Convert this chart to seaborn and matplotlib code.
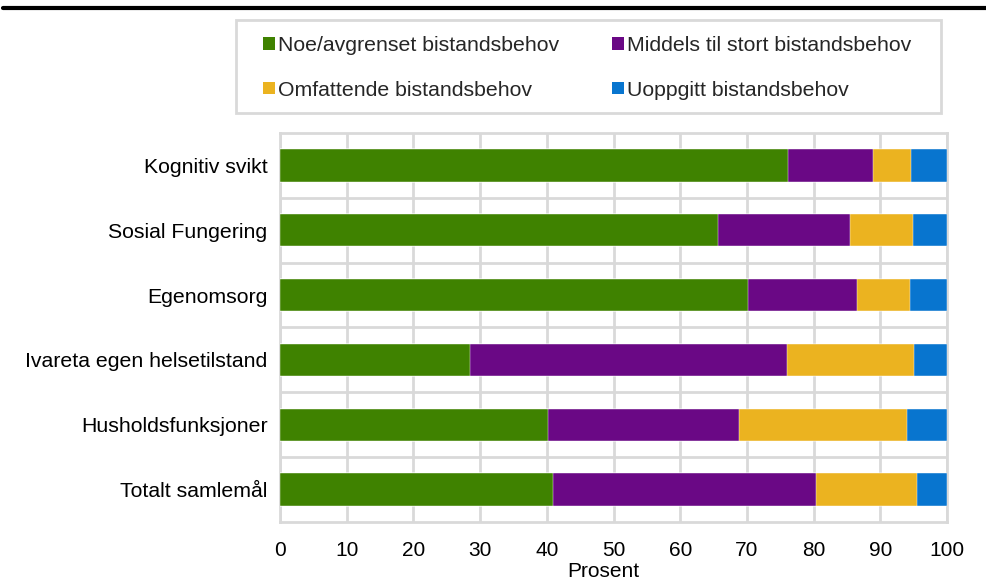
import numpy as np
import pandas as pd
import matplotlib
matplotlib.use("Agg")
import matplotlib.pyplot as plt
from matplotlib.patches import Patch, Rectangle
from matplotlib.lines import Line2D
import seaborn as sns

# Data (percent)
categories = ["Kognitiv svikt", "Sosial Fungering", "Egenomsorg",
              "Ivareta egen helsetilstand", "Husholdsfunksjoner", "Totalt samlemål"]
noe = [76.2, 65.7, 70.2, 28.5, 40.2, 40.9]
middels = [12.7, 19.8, 16.3, 47.5, 28.6, 39.5]
omfattende = [5.7, 9.4, 8.0, 19.1, 25.2, 15.1]
uoppgitt = [5.4, 5.1, 5.5, 4.9, 6.0, 4.5]

series_names = ["Noe/avgrenset bistandsbehov", "Middels til stort bistandsbehov",
                "Omfattende bistandsbehov", "Uoppgitt bistandsbehov"]
colors = ["#3f8200", "#6a0885", "#ebb320", "#0875cf"]
grid_col = "#d9d9d9"

sns.set_theme(style="white")
plt.rcParams["font.family"] = ["Liberation Sans", "DejaVu Sans"]

df = pd.DataFrame({"kategori": categories, "noe": noe, "middels": middels,
                   "omfattende": omfattende, "uoppgitt": uoppgitt})
cols = ["noe", "middels", "omfattende", "uoppgitt"]
cum = df[cols].cumsum(axis=1)

fig = plt.figure(figsize=(9.87, 5.8), dpi=100)
ax = fig.add_axes([0.2837, 0.1, 0.6758, 0.6707])

# stacked bars: draw cumulative totals, largest first
for col, c in reversed(list(zip(cols, colors))):
    sns.barplot(x=cum[col], y=df["kategori"], color=c, width=0.5, orient="h",
                edgecolor="white", linewidth=0.3, saturation=1, ax=ax, zorder=3)

ax.set_xlim(0, 100)
ax.set_ylim(len(categories) - 0.5, -0.5)
ax.set_xticks(np.arange(0, 101, 10))
ax.set_yticks(np.arange(len(categories) - 1) + 0.5, minor=True)
ax.grid(axis="x", which="major", color=grid_col, linewidth=2, zorder=0)
ax.grid(axis="y", which="minor", color=grid_col, linewidth=2, zorder=0)
ax.set_axisbelow(True)
for s in ax.spines.values():
    s.set_visible(True)
    s.set_color(grid_col)
    s.set_linewidth(2)

ax.tick_params(axis="x", length=0, pad=13.5, labelsize=15, labelcolor="black")
ax.tick_params(axis="y", which="both", length=0, pad=9, labelsize=15.3, labelcolor="black")
ax.set_xlabel("Prosent", fontsize=15, labelpad=1.5, color="black")
ax.xaxis.label.set_x(0.484)
ax.set_ylabel("")

# legend (frameless) plus a plain grey box around it
handles = [Patch(facecolor=c, edgecolor="none") for c in colors]
order = [0, 2, 1, 3]
fig.legend([handles[i] for i in order], [series_names[i] for i in order],
           ncol=2, loc="upper left", bbox_to_anchor=(263 / 987, 1 - 36 / 580),
           fontsize=15.3, frameon=False, handlelength=0.55, handleheight=0.55,
           handletextpad=0.15, labelspacing=1.2, borderpad=0, borderaxespad=0,
           columnspacing=2.5)
fig.patches.append(Rectangle((236 / 987, 1 - 113 / 580), 705 / 987, 93 / 580,
                             transform=fig.transFigure, fill=False,
                             edgecolor=grid_col, linewidth=2))

# thick rule under the (cut-off) figure title
fig.add_artist(Line2D([0.003, 1.0], [0.987, 0.987], transform=fig.transFigure,
                      color="black", linewidth=3))

fig.savefig("out.png", dpi=100)
